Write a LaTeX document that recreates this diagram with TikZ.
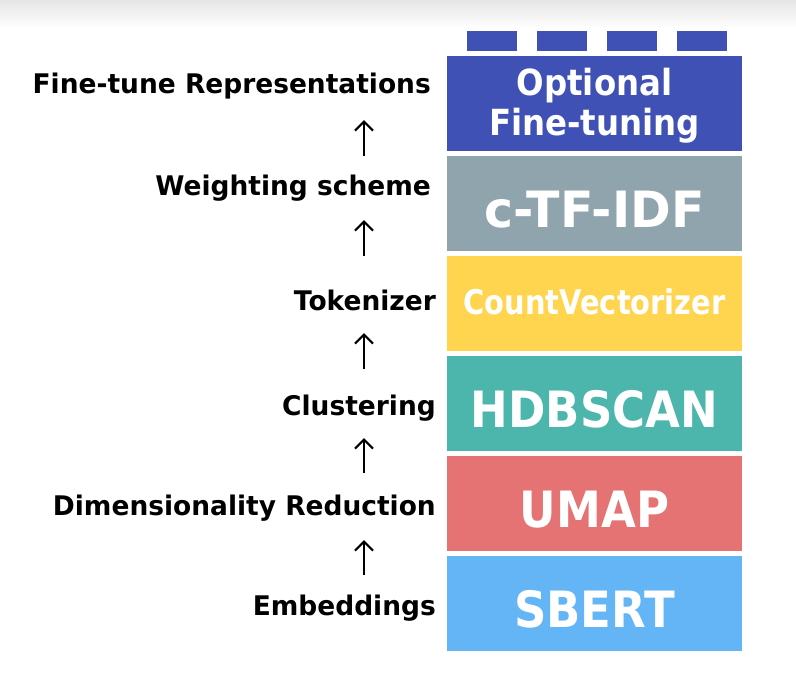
\documentclass[tikz,border=0pt]{standalone}
\usepackage{fontspec}
\setmainfont{DejaVu Sans}
\newfontfamily\blockfont{DejaVu Sans Bold}[FakeStretch=0.9]
\newfontfamily\wideblockfont{DejaVu Sans Bold}[FakeStretch=0.98]
\newfontfamily\narrowblockfont{DejaVu Sans Bold}[FakeStretch=0.85]
\newfontfamily\labelfont{DejaVu Sans Bold}[FakeStretch=0.98]
\usetikzlibrary{arrows.meta}
\definecolor{cIndigo}{HTML}{3F51B5}
\definecolor{cGrey}{HTML}{90A4AE}
\definecolor{cAmber}{HTML}{FFD54F}
\definecolor{cTeal}{HTML}{4DB6AC}
\definecolor{cRed}{HTML}{E57373}
\definecolor{cBlue}{HTML}{64B5F6}
\begin{document}
\begin{tikzpicture}[x=1pt,y=-1pt,
  blockbox/.style={rectangle, inner sep=0pt, minimum width=295pt, minimum height=95pt,
     text=white, font=\blockfont\fontsize{50}{50}\selectfont, text height=47pt, text depth=0pt},
  tabbox/.style={rectangle, inner sep=0pt, minimum width=50pt, minimum height=20pt, fill=cIndigo},
  lab/.style={inner sep=0pt, anchor=base east, font=\labelfont\fontsize{27}{27}\selectfont},
  arr/.style={line width=2.2pt, -{Straight Barb[length=9pt,width=18pt]}}]
\useasboundingbox (0,0) rectangle (796,686);
\fill[white] (0,0) rectangle (796,686);
\shade[top color=black!10, bottom color=white] (0,0) rectangle (796,28);
% top tabs
\node[tabbox] (tab1) at (492,41) {};
\node[tabbox] (tab2) at (562,41) {};
\node[tabbox] (tab3) at (632,41) {};
\node[tabbox] (tab4) at (702,41) {};
% blocks
\node[blockbox, fill=cIndigo, align=center, font=\blockfont\fontsize{36}{40}\selectfont, text height=63pt] (opt) at (594.5,103.5) {Optional\\Fine-tuning};
\node[blockbox, fill=cGrey, font=\wideblockfont\fontsize{50}{50}\selectfont] (ctf) at (594.5,203.5) {c-TF-IDF};
\node[blockbox, fill=cAmber, font=\narrowblockfont\fontsize{34}{34}\selectfont, text height=21pt] (cv) at (594.5,303.5) {CountVectorizer};
\node[blockbox, fill=cTeal] (hdb) at (594.5,403.5) {HDBSCAN};
\node[blockbox, fill=cRed] (umap) at (594.5,503.5) {UMAP};
\node[blockbox, fill=cBlue] (sbert) at (594.5,603.5) {SBERT};
% labels
\node[lab] (l1) at (431,93) {Fine-tune Representations};
\node[lab] (l2) at (431,195) {Weighting scheme};
\node[lab] (l3) at (436,310) {Tokenizer};
\node[lab] (l4) at (436,415) {Clustering};
\node[lab] (l5) at (436,515) {Dimensionality Reduction};
\node[lab] (l6) at (436,615) {Embeddings};
% arrow ends
\coordinate (a1b) at (364,156); \coordinate (a1t) at (364,120);
\coordinate (a2b) at (364,256); \coordinate (a2t) at (364,220);
\coordinate (a3b) at (364,369); \coordinate (a3t) at (364,333);
\coordinate (a4b) at (364,473); \coordinate (a4t) at (364,438);
\coordinate (a5b) at (364,575); \coordinate (a5t) at (364,540);
\draw[arr] (a1b) -- (a1t);
\draw[arr] (a2b) -- (a2t);
\draw[arr] (a3b) -- (a3t);
\draw[arr] (a4b) -- (a4t);
\draw[arr] (a5b) -- (a5t);
\end{tikzpicture}
\end{document}
